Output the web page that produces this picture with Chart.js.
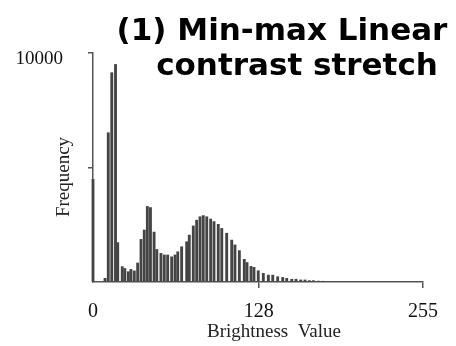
<!DOCTYPE html>
<html>
<head>
<meta charset="utf-8">
<script src="https://cdn.jsdelivr.net/npm/chart.js@4.4.1/dist/chart.umd.min.js"></script>
<style>
  html, body { margin: 0; padding: 0; background: #fff; }
  #wrap { width: 456px; height: 346px; }
</style>
</head>
<body>
<div id="wrap"><canvas id="c" width="456" height="346"></canvas></div>
<script>
// ---- data ----
const titleLines = ['(1) Min-max Linear', 'contrast stretch'];
const xTitle = 'Brightness  Value';
const yTitle = 'Frequency';
const xTickValues = [0, 128, 255];
const yTickValues = [0, 5000, 10000];
const yTickLabels = ['', '', '10000'];

const brightness = [0, 9.3, 11.8, 14.5, 17.4, 19.1, 22.6, 24.6, 27.3, 29.3, 31.9, 34.5, 37.1, 39.6,
  42.0, 44.4, 47.2, 49.3, 52.5, 55.1, 57.7, 60.8, 63.4, 65.5, 68.5, 72.4, 74.4, 77.5, 80.1, 82.7,
  85.2, 87.9, 90.9, 93.5, 96.8, 99.5, 103.3, 107.2, 109.7, 113.1, 116.9, 119.0, 122.1, 124.4,
  127.7, 131.6, 135.5, 138.9, 142.7, 146.6, 149.7, 153.6, 156.9, 160.5, 163.8, 167.2, 170.3,
  174.1, 177.5];
const frequency = [4480, 160, 6520, 9140, 9500, 1720, 670, 590, 450, 550, 485, 830, 1860, 2270,
  3300, 3250, 2180, 1420, 1250, 1180, 1180, 1100, 1180, 1320, 1540, 1760, 2050, 2450, 2700, 2850,
  2900, 2850, 2750, 2640, 2520, 2340, 2130, 1830, 1620, 1370, 990, 850, 680, 640,
  490, 380, 300, 300, 230, 200, 160, 120, 120, 90, 90, 60, 60,
  40, 30];

const points = brightness.map((b, i) => ({ x: b, y: frequency[i] }));

const textPlugin = {
  id: 'textPlugin',
  afterDraw(chart) {
    const ctx = chart.ctx;
    ctx.save();
    ctx.fillStyle = '#000';
    ctx.textAlign = 'center';
    ctx.textBaseline = 'alphabetic';
    ctx.font = 'bold 31px "DejaVu Sans", sans-serif';
    ctx.fillText(titleLines[0], 282, 40);
    ctx.fillText(titleLines[1], 297, 75);
    ctx.fillStyle = '#222';
    ctx.font = '19px "Liberation Serif", "DejaVu Serif", serif';
    ctx.textBaseline = 'middle';
    ctx.fillText(xTitle, 274, 332);
    ctx.translate(64, 177);
    ctx.rotate(-Math.PI / 2);
    ctx.fillText(yTitle, 0, 0);
    ctx.restore();
  }
};

new Chart(document.getElementById('c'), {
  type: 'bar',
  data: {
    datasets: [{
      data: points,
      backgroundColor: '#444444',
      borderWidth: 0,
      barThickness: 2.2,
      clip: false
    }]
  },
  options: {
    responsive: false,
    animation: false,
    devicePixelRatio: 1,
    layout: { padding: { left: 0, right: 33, top: 53, bottom: 0 } },
    plugins: { legend: { display: false }, tooltip: { enabled: false }, title: { display: false } },
    scales: {
      x: {
        type: 'linear',
        min: 0, max: 255,
        offset: false,
        afterFit(s) { s.height = 64; },
        afterBuildTicks(s) { s.ticks = xTickValues.map(v => ({ value: v })); },
        border: { display: true, color: '#555', width: 1.5 },
        grid: {
          offset: false,
          drawOnChartArea: false, drawTicks: true, tickLength: 6,
          color: '#555', lineWidth: 1.5,
          tickColor: (c) => (c.tick && c.tick.value === 0) ? 'rgba(0,0,0,0)' : '#555'
        },
        ticks: {
          color: '#111', padding: 12, maxRotation: 0, autoSkip: false,
          font: { family: '"Liberation Serif", serif', size: 20 },
          callback: (v) => String(v)
        },
        title: { display: false }
      },
      y: {
        min: 0, max: 10000,
        afterFit(s) { s.width = 93; },
        afterBuildTicks(s) { s.ticks = yTickValues.map(v => ({ value: v })); },
        border: { display: true, color: '#555', width: 1.5 },
        grid: {
          drawOnChartArea: false, drawTicks: true, tickLength: 5,
          color: '#555', lineWidth: 1.5,
          tickColor: (c) => (c.tick && c.tick.value === 0) ? 'rgba(0,0,0,0)' : '#555'
        },
        ticks: {
          color: '#111', padding: 25, labelOffset: 6,
          font: { family: '"Liberation Serif", serif', size: 19 },
          callback: (v) => yTickLabels[yTickValues.indexOf(v)]
        },
        title: { display: false }
      }
    }
  },
  plugins: [textPlugin]
});
</script>
</body>
</html>
